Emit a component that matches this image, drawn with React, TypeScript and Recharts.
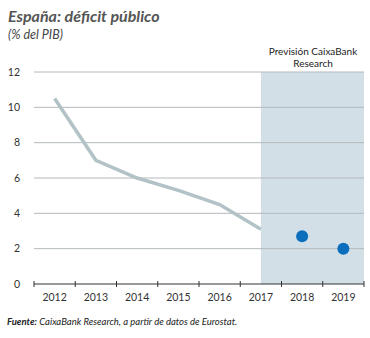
import { ComposedChart, Line, XAxis, YAxis, ReferenceArea, CartesianGrid } from "recharts";

// España: déficit público (% del PIB). Observed 2012-2017 as a line,
// CaixaBank Research forecast for 2018-2019 as dots on a shaded band.
const YEARS = ["2012", "2013", "2014", "2015", "2016", "2017", "2018", "2019"];
const OBSERVED = [10.5, 7.0, 6.0, 5.3, 4.5, 3.1, null, null];
const FORECAST = [null, null, null, null, null, null, 2.7, 2.0];
const Y_TICKS = [0, 2, 4, 6, 8, 10, 12];

const data = YEARS.map((year, i) => ({ year, observed: OBSERVED[i], forecast: FORECAST[i] }));

const FONT = "Lato, 'Open Sans', sans-serif";
const W = 370;
const H = 310;
const M = { top: 72, right: 6, bottom: 0, left: 0 };
const Y_W = 34;
const X_H = 26;
const BAND = (W - M.left - M.right - Y_W) / YEARS.length;

function YearTick(props: any) {
  const { x, y, payload, index } = props;
  const left = Number(x) - BAND / 2;
  const ty = Number(y);
  return (
    <g>
      <path d={`M${left},${ty - 3}V${ty + 3}`} stroke="#333" strokeWidth={1} />
      {index === YEARS.length - 1 && (
        <path d={`M${left + BAND},${ty - 3}V${ty + 3}`} stroke="#333" strokeWidth={1} />
      )}
      <text x={x} y={ty + 17} textAnchor="middle" fontSize={10.5} fill="#333" fontFamily={FONT}>
        {payload.value}
      </text>
    </g>
  );
}

// forecast shading starts at the middle of the 2017 band
function ForecastShade(props: any) {
  const { x, y, width, height } = props;
  return <rect x={x + BAND / 2} y={y} width={width - BAND / 2} height={height} fill="#d3dfe7" />;
}

export default function App() {
  return (
    <div style={{ position: "absolute", left: 0, top: 0, width: W, height: 338, background: "#fff", fontFamily: FONT }}>
      <div style={{ position: "absolute", left: 8, top: 6, fontSize: 16, fontWeight: 700, fontStyle: "italic", color: "#555" }}>
        España: déficit público
      </div>
      <div style={{ position: "absolute", left: 8, top: 27, fontSize: 12.5, fontStyle: "italic", color: "#444" }}>
        (% del PIB)
      </div>
      <div style={{ position: "absolute", left: 262, width: 102, top: 45, fontSize: 10, lineHeight: "12px", textAlign: "center", color: "#222" }}>
        Previsión CaixaBank
        <br />
        Research
      </div>
      {/* back layer: forecast shading only, same axes so the scales line up */}
      <div style={{ position: "absolute", top: 0, left: 0 }}>
        <ComposedChart width={W} height={H} data={data} margin={M}>
          <ReferenceArea x1="2017" shape={<ForecastShade />} ifOverflow="visible" />
          <XAxis dataKey="year" scale="band" height={X_H} axisLine={false} tickLine={false} tick={false} />
          <YAxis width={Y_W} domain={[0, 12]} ticks={Y_TICKS} axisLine={false} tickLine={false} tick={false} />
          <Line dataKey="observed" stroke="none" dot={false} isAnimationActive={false} />
        </ComposedChart>
      </div>
      {/* front layer: grid, axes and series */}
      <div style={{ position: "absolute", top: 0, left: 0 }}>
        <ComposedChart width={W} height={H} data={data} margin={M}>
          <CartesianGrid vertical={false} stroke="#b4b9bd" horizontalValues={Y_TICKS.filter((t) => t > 0)} />
          <XAxis
            dataKey="year"
            scale="band"
            axisLine={{ stroke: "#333" }}
            tickLine={false}
            tickSize={0}
            tickMargin={0}
            height={X_H}
            tick={<YearTick />}
            interval={0}
          />
          <YAxis
            width={Y_W}
            domain={[0, 12]}
            ticks={Y_TICKS}
            axisLine={false}
            tickLine={false}
            tickMargin={8}
            tick={{ fontSize: 10.5, fill: "#333", fontFamily: FONT }}
          />
          <Line
            dataKey="observed"
            stroke="#b2c2c7"
            strokeWidth={3.5}
            dot={false}
            connectNulls={false}
            isAnimationActive={false}
          />
          <Line
            dataKey="forecast"
            stroke="none"
            dot={{ r: 6, fill: "#0a6ebd", stroke: "none" }}
            isAnimationActive={false}
          />
        </ComposedChart>
      </div>
      <div style={{ position: "absolute", left: 7, top: 316, fontSize: 9.5, fontStyle: "italic", color: "#222" }}>
        <b>Fuente:</b> CaixaBank Research, a partir de datos de Eurostat.
      </div>
    </div>
  );
}
